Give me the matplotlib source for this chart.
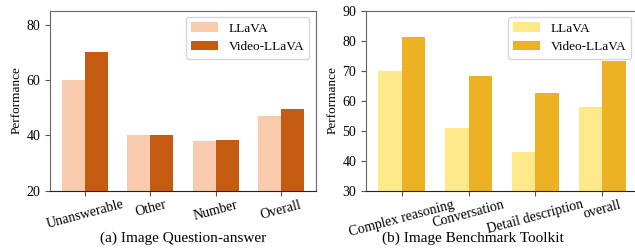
import numpy as np
import matplotlib
matplotlib.use('Agg')
import matplotlib.pyplot as plt

plt.rcParams['font.family'] = ['Liberation Serif', 'DejaVu Serif']

# (a) Image Question-answer
qa_labels = ['Unanswerable', 'Other', 'Number', 'Overall']
qa_llava = [60.0, 40.0, 37.8, 47.0]
qa_video = [70.0, 40.0, 38.2, 49.5]

# (b) Image Benchmark Toolkit
bench_labels = ['Complex reasoning', 'Conversation', 'Detail description', 'overall']
bench_llava = [69.9, 50.8, 42.8, 57.8]
bench_video = [81.2, 68.2, 62.5, 73.2]

fig = plt.figure(figsize=(6.35, 2.5), dpi=100)
ax1 = fig.add_axes([50 / 635, 1 - 190.5 / 250, 266 / 635, 180 / 250])
ax2 = fig.add_axes([366 / 635, 1 - 190.5 / 250, 272 / 635, 180 / 250])

width = 0.35


def draw(ax, labels, a, b, colors, ylim, yticks):
    x = np.arange(len(labels))
    ax.bar(x - width / 2, a, width, color=colors[0], label='LLaVA')
    ax.bar(x + width / 2, b, width, color=colors[1], label='Video-LLaVA')
    ax.set_xticks(x)
    ax.set_xticklabels(labels, rotation=15, ha='center', fontsize=10)
    ax.set_ylim(*ylim)
    ax.set_yticks(yticks)
    ax.tick_params(axis='y', labelsize=10, color='#555555')
    ax.tick_params(axis='x', pad=2, color='#555555')
    ax.set_ylabel('Performance', fontsize=9.5, labelpad=3)
    for name, s in ax.spines.items():
        s.set_color('#222222' if name == 'bottom' else '#666666')
    ax.legend(loc='upper right', fontsize=9.5, handlelength=2.0, fancybox=True)


draw(ax1, qa_labels, qa_llava, qa_video, ['#F8CBAD', '#C55A11'], (20, 85.2), [20, 40, 60, 80])
draw(ax2, bench_labels, bench_llava, bench_video, ['#FFE98A', '#EDB224'], (30, 90),
     [30, 40, 50, 60, 70, 80, 90])

fig.text(183 / 635, 1 - 238 / 250, '(a) Image Question-answer', ha='center', va='center', fontsize=11)
fig.text(473 / 635, 1 - 238 / 250, '(b) Image Benchmark Toolkit', ha='center', va='center', fontsize=11)

fig.savefig('out.png', dpi=100)
